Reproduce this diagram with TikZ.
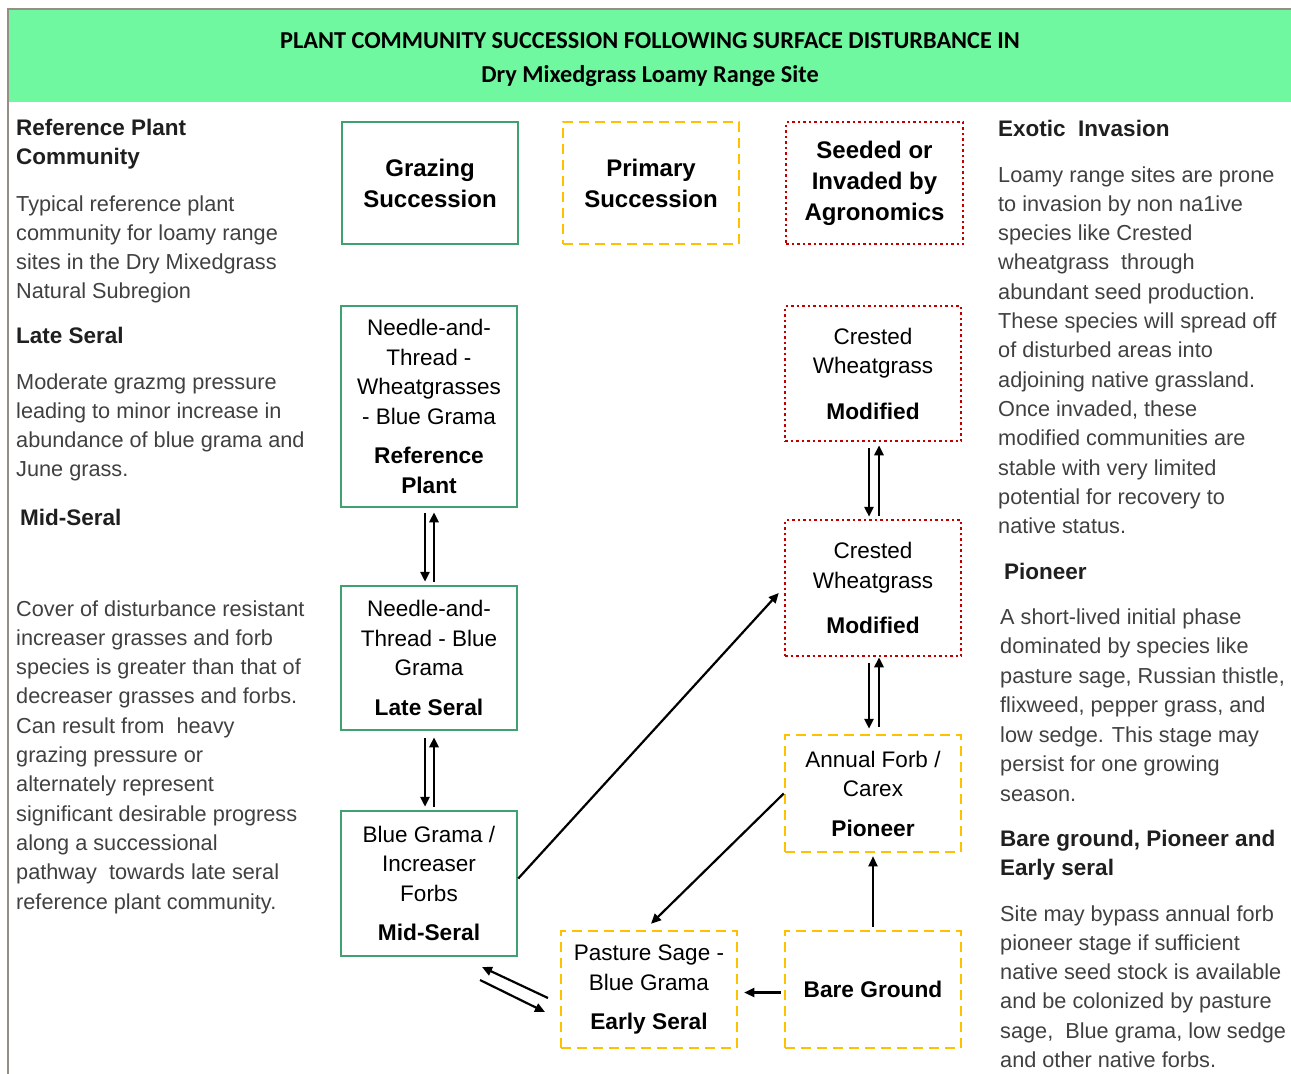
\documentclass[tikz,border=0pt]{standalone}
\usepackage{fontspec}
\setmainfont{Liberation Sans}
\newfontfamily\carlito{Carlito}
\usetikzlibrary{arrows.meta,calc}
\definecolor{hdrgreen}{RGB}{112,248,160}
\definecolor{boxgreen}{RGB}{64,160,112}
\definecolor{boxyellow}{RGB}{255,192,0}
\definecolor{boxred}{RGB}{192,0,0}
\definecolor{sidegray}{RGB}{64,64,64}
\definecolor{framegray}{RGB}{150,142,132}
\newcommand\bl[1]{{\fontsize{22.7}{30}\selectfont\bfseries #1}}
\newcommand\paralines[5]{% name, x, first baseline, step, list
  \foreach \t [count=\i] in {#5} {\node[sidetxt] (#1\i) at (#2,{#3+#4*(\i-1)}) {\t};}}
\begin{document}
\begin{tikzpicture}[x=1pt,y=-1pt,
  sidetxt/.style={font=\fontsize{21.7}{29}\selectfont, text=sidegray, inner sep=0pt, anchor=base west},
  sidehead/.style={font=\fontsize{22.5}{29}\selectfont\bfseries, text=black!88, inner sep=0pt, anchor=base west},
  stbox/.style={align=center, inner sep=0pt, minimum width=176pt, line width=2.5pt,
     font=\fontsize{22.5}{29.5}\selectfont},
  greenbox/.style={stbox, draw=boxgreen},
  yellowbox/.style={stbox, draw=boxyellow, dash pattern=on 10pt off 6pt},
  redbox/.style={stbox, draw=boxred, dash pattern=on 2.5pt off 3pt},
  headtxt/.style={font=\fontsize{24}{31}\selectfont\bfseries},
  arr/.style={line width=2.5pt, -{Triangle[length=10pt,width=9pt]}},
  darr/.style={line width=2.2pt, -{Triangle[length=10pt,width=9pt]}},
]
\useasboundingbox (0,0) rectangle (1291,1074);
% header
\fill[hdrgreen] (8,10) rectangle (1291,102);
\draw[framegray, line width=2pt] (8,1074) -- (8,9) -- (1291,9);
\node[font=\carlito\bfseries\fontsize{24.3}{28}\selectfont, anchor=base, inner sep=0pt] (title1) at (650,48) {PLANT COMMUNITY SUCCESSION FOLLOWING SURFACE DISTURBANCE IN};
\node[font=\carlito\bfseries\fontsize{24.3}{28}\selectfont, anchor=base, inner sep=0pt] (title2) at (650,82) {Dry Mixedgrass Loamy Range Site};

% left column
\node[sidehead] (lh1a) at (16,135) {Reference Plant};
\node[sidehead] (lh1b) at (16,164) {Community};
\paralines{lp1}{16}{211}{29.2}{Typical reference plant, community for loamy range, sites in the Dry Mixedgrass, Natural Subregion}
\node[sidehead] (lh2) at (16,343) {Late Seral};
\paralines{lp2}{16}{389}{29.3}{Moderate grazmg pressure, leading to minor increase in, abundance of blue grama and, June grass.}
\node[sidehead] (lh3) at (20,525) {Mid-Seral};
\paralines{lp3}{16}{616}{29.3}{Cover of disturbance resistant, increaser grasses and forb, species is greater than that of, decreaser grasses and forbs., Can result from\ \ heavy, grazing pressure or, alternately represent, significant desirable progress, along a successional, pathway\ \ towards late seral, reference plant community.}

% right column
\node[sidehead] (rh1) at (998,136) {Exotic\ \ Invasion};
\paralines{rp1}{998}{182}{29.3}{Loamy range sites are prone, to invasion by non na1ive, species like Crested, wheatgrass\ \ through, abundant seed production., These species will spread off, of disturbed areas into, adjoining native grassland., {Once invaded, these}, modified communities are, stable with very limited, potential for recovery to, native status.}
\node[sidehead] (rh2) at (1004,579) {Pioneer};
\paralines{rp2}{1000}{624}{29.5}{A short-lived initial phase, dominated by species like, {pasture sage, Russian thistle,}, {flixweed, pepper grass, and}, low sedge. This stage may, persist for one growing, season.}
\node[sidehead] (rh3a) at (1000,846) {Bare ground,\ Pioneer and};
\node[sidehead] (rh3b) at (1000,875) {Early seral};
\paralines{rp3}{1000}{921}{29.3}{Site may bypass annual forb, pioneer stage if sufficient, native seed stock is available, and be colonized by pasture, {sage,\ \ Blue grama, low sedge}, and other native forbs.}

% header boxes
\node[greenbox, minimum height=122pt, headtxt] (graz) at (430,183) {Grazing\\Succession};
\node[yellowbox, minimum height=122pt, headtxt] (prim) at (651,183) {Primary\\Succession};
\node[redbox, minimum width=177pt, minimum height=122pt, headtxt] (seed) at (874.5,183) {Seeded or\\Invaded by\\Agronomics};

% state boxes
\node[greenbox, minimum height=201pt] (ref) at (429,406.5) {Needle-and-\\Thread -\\Wheatgrasses\\- Blue Grama\\[10pt]\bl{Reference}\\\bl{Plant}};
\node[greenbox, minimum height=144pt] (late) at (429,658) {Needle-and-\\Thread - Blue\\Grama\\[10pt]\bl{Late Seral}};
\node[greenbox, minimum height=145pt] (mid) at (429,883.5) {Blue Grama /\\Increaser\\Forbs\\[10pt]\bl{Mid-Seral}};
\node[redbox, minimum height=135pt] (cw1) at (873,373.5) {Crested\\Wheatgrass\\[16pt]\bl{Modified}};
\node[redbox, minimum height=136pt] (cw2) at (873,588) {Crested\\Wheatgrass\\[16pt]\bl{Modified}};
\node[yellowbox, minimum height=117pt] (af) at (873,793.5) {Annual Forb /\\Carex\\[10pt]\bl{Pioneer}};
\node[yellowbox, minimum height=117pt] (ps) at (649,989.5) {Pasture Sage -\\Blue Grama\\[10pt]\bl{Early Seral}};
\node[yellowbox, minimum height=117pt] (bg) at (873,989.5) {\bl{Bare Ground}};

% connectors
\draw[arr, shorten <=5pt, shorten >=3pt] ([xshift=-4pt]ref.south) -- ([xshift=-4pt]late.north);
\draw[arr, shorten <=3pt, shorten >=4pt] ([xshift=5pt]late.north) -- ([xshift=5pt]ref.south);
\draw[arr, shorten <=7pt, shorten >=3pt] ([xshift=-4pt]late.south) -- ([xshift=-4pt]mid.north);
\draw[arr, shorten <=3pt, shorten >=6pt] ([xshift=5pt]mid.north) -- ([xshift=5pt]late.south);
\draw[arr, shorten <=6pt, shorten >=2pt] ([xshift=-4pt]cw1.south) -- ([xshift=-4pt]cw2.north);
\draw[arr, shorten <=3pt, shorten >=3pt] ([xshift=6pt]cw2.north) -- ([xshift=6pt]cw1.south);
\draw[arr, shorten <=6pt, shorten >=5pt] ([xshift=-4pt]cw2.south) -- ([xshift=-4pt]af.north);
\draw[arr, shorten <=7pt, shorten >=0pt] ([xshift=6pt]af.north) -- ([xshift=6pt]cw2.south);
\draw[darr] ([yshift=5pt]mid.east) -- ([xshift=-5pt,yshift=-5pt]cw2.west);
\draw[darr] (af.west) -- ([xshift=2pt,yshift=6pt]ps.north);
\draw[darr, shorten <=3pt, shorten >=3pt] (bg.north) -- (af.south);
\draw[darr, shorten <=3pt, shorten >=6pt] ([yshift=-3pt]bg.west) -- ([yshift=-3pt]ps.east);
\coordinate (ea) at (548,998);
\coordinate (eb) at (482,967);
\coordinate (ec) at (480,980);
\coordinate (ed) at (545,1012);
\draw[darr] (ea) -- (eb);
\draw[darr] (ec) -- (ed);
\end{tikzpicture}
\end{document}
